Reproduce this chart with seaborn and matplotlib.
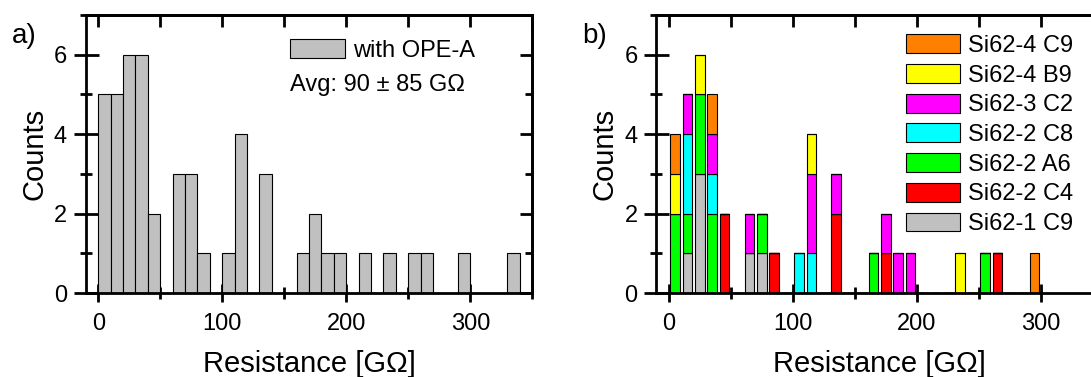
import numpy as np
import pandas as pd
import matplotlib
matplotlib.use("Agg")
import matplotlib.pyplot as plt
import seaborn as sns
from matplotlib.patches import Patch
from matplotlib.ticker import MultipleLocator

# histogram counts per 10 GOhm bin, first bin starts at 0
bin_width = 10
counts_a = [5, 5, 6, 6, 2, 0, 3, 3, 1, 0,
            1, 4, 0, 3, 0, 0, 1, 2, 1, 1,
            0, 1, 0, 1, 0, 1, 1, 0, 0, 1,
            0, 0, 0, 1]
label_a = "with OPE-A"
avg_text = "Avg: 90 ± 85 GΩ"

# panel b, stacked by sample (legend order = top of stack first)
samples = ["Si62-4 C9", "Si62-4 B9", "Si62-3 C2", "Si62-2 C8",
           "Si62-2 A6", "Si62-2 C4", "Si62-1 C9"]
colors = ["#FF8000", "#FFFF00", "#FF00FF", "#00FFFF",
          "#00FF00", "#FF0000", "#C0C0C0"]
counts_b = {
    "Si62-4 C9": [1, 0, 0, 1, 0, 0, 0, 0, 0, 0, 0, 0, 0, 0, 0,
                  0, 0, 0, 0, 0, 0, 0, 0, 0, 0, 0, 0, 0, 0, 1],
    "Si62-4 B9": [1, 0, 1, 0, 0, 0, 0, 0, 0, 0, 0, 1, 0, 0, 0,
                  0, 0, 0, 0, 0, 0, 0, 0, 1, 0, 0, 0, 0, 0, 0],
    "Si62-3 C2": [0, 1, 0, 1, 0, 0, 1, 0, 0, 0, 0, 2, 0, 1, 0,
                  0, 0, 1, 1, 1, 0, 0, 0, 0, 0, 0, 0, 0, 0, 0],
    "Si62-2 C8": [0, 2, 0, 1, 0, 0, 0, 0, 0, 0, 1, 1, 0, 0, 0,
                  0, 0, 0, 0, 0, 0, 0, 0, 0, 0, 0, 0, 0, 0, 0],
    "Si62-2 A6": [2, 1, 2, 2, 0, 0, 0, 1, 0, 0, 0, 0, 0, 0, 0,
                  0, 1, 0, 0, 0, 0, 0, 0, 0, 0, 1, 0, 0, 0, 0],
    "Si62-2 C4": [0, 0, 0, 0, 2, 0, 0, 0, 1, 0, 0, 0, 0, 2, 0,
                  0, 0, 1, 0, 0, 0, 0, 0, 0, 0, 0, 1, 0, 0, 0],
    "Si62-1 C9": [0, 1, 3, 0, 0, 0, 1, 1, 0, 0, 0, 0, 0, 0, 0,
                  0, 0, 0, 0, 0, 0, 0, 0, 0, 0, 0, 0, 0, 0, 0],
}

sns.set_style("ticks", {"axes.edgecolor": "black", "xtick.color": "black",
                        "ytick.color": "black", "text.color": "black",
                        "axes.labelcolor": "black"})
plt.rcParams["font.family"] = ["Liberation Sans", "DejaVu Sans"]
plt.rcParams["axes.linewidth"] = 2

df_a = pd.DataFrame({
    "resistance": np.arange(len(counts_a)) * bin_width + bin_width / 2,
    "count": counts_a,
})
rows = []
for s in samples:
    for i, c in enumerate(counts_b[s]):
        rows.append({"resistance": i * bin_width + bin_width / 2, "sample": s, "count": c})
df_b = pd.DataFrame(rows)


def style_axes(ax):
    ax.set_xlim(-10, 350)
    ax.set_ylim(0, 7)
    ax.xaxis.set_major_locator(MultipleLocator(100))
    ax.xaxis.set_minor_locator(MultipleLocator(50))
    ax.yaxis.set_major_locator(MultipleLocator(2))
    ax.yaxis.set_minor_locator(MultipleLocator(1))
    ax.tick_params(axis="y", which="major", direction="inout", length=18, width=2,
                   labelsize=17, pad=4.5)
    ax.tick_params(axis="y", which="minor", direction="inout", length=8.6, width=2)
    ax.tick_params(axis="x", which="major", direction="inout", length=13, width=2,
                   labelsize=17, pad=8)
    ax.tick_params(axis="x", which="minor", direction="inout", length=8, width=2)
    for sp in ax.spines.values():
        sp.set_visible(True)
        sp.set_linewidth(2)
        sp.set_color("black")
    top = ax.secondary_xaxis("top")
    top.xaxis.set_major_locator(MultipleLocator(50))
    top.tick_params(direction="in", length=8.6, width=2, labeltop=False)
    right = ax.secondary_yaxis("right")
    right.yaxis.set_major_locator(MultipleLocator(2))
    right.yaxis.set_minor_locator(MultipleLocator(1))
    right.tick_params(which="major", direction="in", length=8.6, width=2, labelright=False)
    right.tick_params(which="minor", direction="in", length=5, width=2)
    ax.set_xlabel("Resistance [GΩ]", fontsize=21, labelpad=11)
    ax.set_ylabel("Counts", fontsize=21, labelpad=4)


fig = plt.figure(figsize=(10.91, 3.77), dpi=100)
ax_a = fig.add_axes([0.0787, 0.2228, 0.4092, 0.7374])
ax_b = fig.add_axes([0.6016, 0.2228, 0.4092, 0.7374])

sns.histplot(data=df_a, x="resistance", weights="count",
             binwidth=bin_width, binrange=(0, len(counts_a) * bin_width),
             color="#C0C0C0", edgecolor="black", linewidth=0.8, alpha=1,
             ax=ax_a)
style_axes(ax_a)
ax_a.legend(handles=[Patch(facecolor="#C0C0C0", edgecolor="black", linewidth=0.8, label=label_a)],
            loc="upper left", bbox_to_anchor=(0.458, 0.913), frameon=False, fontsize=17,
            handlelength=2.3, handleheight=0.85, handletextpad=0.35,
            borderpad=0, borderaxespad=0)
ax_a.text(0.458, 0.747, avg_text, transform=ax_a.transAxes, fontsize=17,
          ha="left", va="center")

sns.histplot(data=df_b, x="resistance", weights="count", hue="sample",
             hue_order=samples, palette=dict(zip(samples, colors)),
             multiple="stack", binwidth=bin_width, binrange=(0, 300), shrink=0.78,
             edgecolor="black", linewidth=0.8, alpha=1, ax=ax_b, legend=False)
style_axes(ax_b)
ax_b.legend(handles=[Patch(facecolor=c, edgecolor="black", linewidth=0.8, label=s)
                     for s, c in zip(samples, colors)],
            loc="upper left", bbox_to_anchor=(0.5585, 0.93), frameon=False, fontsize=17,
            handlelength=2.3, handleheight=0.85, handletextpad=0.35,
            labelspacing=0.30, borderpad=0, borderaxespad=0)

fig.text(0.022, 0.905, "a)", fontsize=20, ha="center", va="center")
fig.text(0.545, 0.905, "b)", fontsize=20, ha="center", va="center")

fig.savefig("out.png", dpi=100)
